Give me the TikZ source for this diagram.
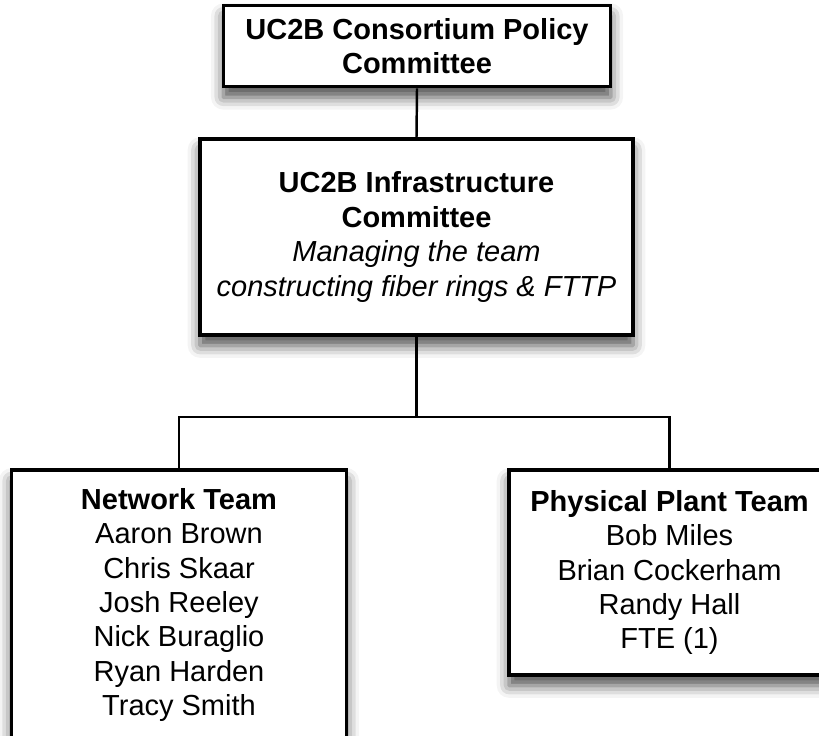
\documentclass[tikz,border=0pt]{standalone}
\usepackage{fontspec}
\setmainfont{Liberation Sans}
\usetikzlibrary{shadows.blur}

\tikzset{
    orgbox/.style={draw, line width=1.8pt, fill=white, align=center, inner sep=0pt,
        font=\fontsize{16.5}{19.6}\selectfont,
        blur shadow={shadow xshift=0pt, shadow yshift=-6pt, shadow blur radius=7pt, shadow opacity=70}},
    link/.style={line width=1.4pt}
}

\begin{document}
\begin{tikzpicture}
            \clip (0, 0) rectangle (16.38, 14.7);
            %\draw[lightgray] (0, 0) grid (16, 14);
            \node[orgbox, minimum width=7.75cm, minimum height=1.63cm](policy) at (8.34, 13.78) {\textbf{UC2B Consortium Policy}\\\textbf{Committee}};
            \node[orgbox, minimum width=8.66cm, minimum height=3.92cm](infra) at (8.33, 9.96) {\textbf{UC2B Infrastructure}\\\textbf{Committee}\\\textit{Managing the team}\\\textit{constructing fiber rings \& FTTP}};
            \node[orgbox, minimum width=6.71cm, minimum height=5.4cm](network) at (3.58, 2.6) {\textbf{Network Team}\\Aaron Brown\\Chris Skaar\\Josh Reeley\\Nick Buraglio\\Ryan Harden\\Tracy Smith};
            \node[orgbox, minimum width=6.42cm, minimum height=4.1cm](plant) at (13.39, 3.25) {\textbf{Physical Plant Team}\\Bob Miles\\Brian Cockerham\\Randy Hall\\FTE (1)};
            \coordinate (split) at (8.33, 6.36);

            \draw[link] (policy.south) -- (infra.north);
            \draw[link] (infra.south) -- (split);
            \draw[link] (network.north) |- (split) -| (plant.north);
        \end{tikzpicture}
\end{document}
